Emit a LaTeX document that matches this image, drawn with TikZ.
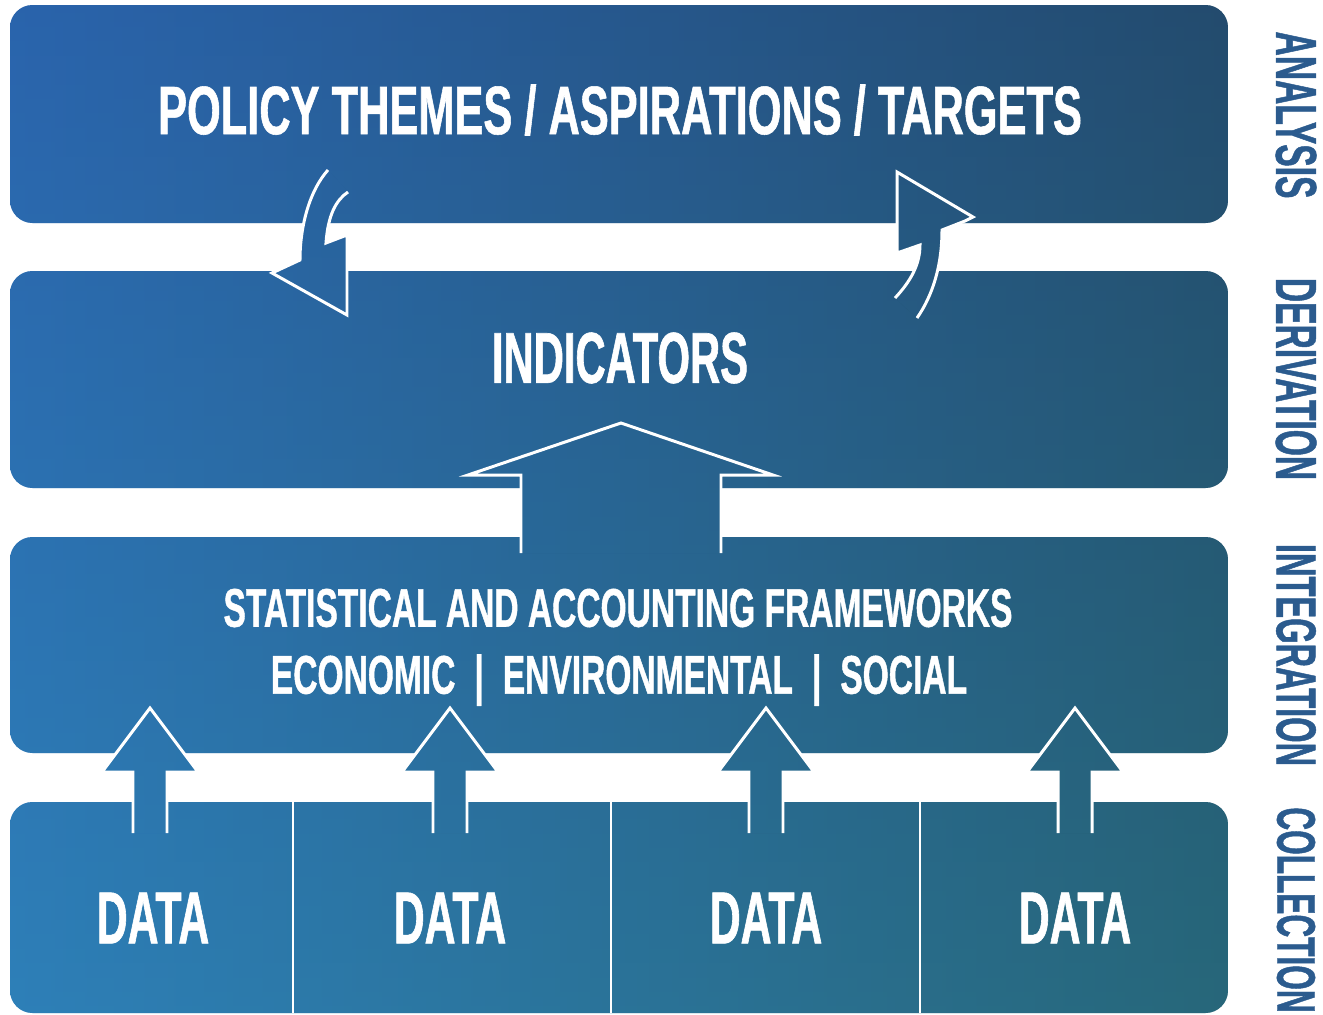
\documentclass[tikz,border=0pt]{standalone}
\usepackage{fontspec}
\newfontfamily\condfont{Liberation Sans}[FakeStretch=0.58,FakeBold=0.8]
\newfontfamily\widefont{Liberation Sans}[FakeStretch=0.616,FakeBold=0.8]
\newfontfamily\titlefont{Liberation Sans}[FakeStretch=0.633,FakeBold=0.8]

\definecolor{paneleft}{HTML}{2F71BB}
\definecolor{panemid}{HTML}{266599}
\definecolor{paneright}{HTML}{244853}
\definecolor{panetop}{HTML}{225096}
\definecolor{panebot}{HTML}{2C96B4}
\definecolor{stageblue}{HTML}{2B5B8E}

% the one gradient behind every panel and arrow
\newcommand{\paneshade}{%
  \shade[left color=paneleft, middle color=panemid, right color=paneright] (10,5) rectangle (1228,1013);
  \shade[top color=panetop, bottom color=panebot, opacity=0.4] (10,5) rectangle (1228,1013);}

\begin{document}
\begin{tikzpicture}[x=0.02cm,y=-0.02cm,
    outline/.style={draw=white, line width=1.7pt, line join=miter},
    banner/.style={text=white, font=\titlefont\bfseries\fontsize{39}{44}\selectfont},
    framework/.style={text=white, font=\widefont\bfseries\fontsize{31}{36}\selectfont},
    datalabel/.style={text=white, font=\condfont\bfseries\fontsize{42}{48}\selectfont},
    stage/.style={text=stageblue, rotate=-90, font=\condfont\bfseries\fontsize{33}{38}\selectfont}]
\useasboundingbox (0,0) rectangle (1323,1015);

% panels
\foreach \top/\bot in {5/223,271/488,537/753,802/1013}{
  \begin{scope}
    \clip[rounded corners=0.45cm] (10,\top) rectangle (1228,\bot);
    \paneshade
  \end{scope}
}
\foreach \x in {293,611,920}
  \draw[white, line width=1pt] (\x,802) -- (\x,1013);

% bent arrows between targets and indicators
\begin{scope}
  \clip (328,170) .. controls (310,190) and (300,225) .. (300,260) -- (272,273) -- (347,315)
        -- (347,235) -- (326,243) .. controls (328,215) and (336,200) .. (348,192) -- cycle;
  \paneshade
\end{scope}
\draw[outline] (328,170) .. controls (310,190) and (300,225) .. (300,260) -- (272,273) -- (347,315)
      -- (347,235) -- (326,243) .. controls (328,215) and (336,200) .. (348,192);

\begin{scope}
  \clip (895,298) .. controls (910,282) and (920,265) .. (920,245) -- (897,253) -- (897,172)
        -- (973,217) -- (965,221) -- (942,230) .. controls (942,265) and (933,295) .. (917,318) -- cycle;
  \paneshade
\end{scope}
\draw[outline] (895,298) .. controls (910,282) and (920,265) .. (920,245) -- (897,253) -- (897,172)
      -- (973,217) -- (965,221) -- (942,230) .. controls (942,265) and (933,295) .. (917,318);

% big arrow up to indicators
\begin{scope}
  \clip (521,553) -- (521,475) -- (468,475) -- (621,423) -- (773,475) -- (721,475) -- (721,553) -- cycle;
  \paneshade
\end{scope}
\draw[outline] (521,553) -- (521,475) -- (468,475) -- (621,423) -- (773,475) -- (721,475) -- (721,553);

% data arrows
\foreach \x in {150,450,766,1075}{
  \begin{scope}
    \clip ({\x-17},833) -- ({\x-17},772) -- ({\x-48},772) -- (\x,708) -- ({\x+48},772)
          -- ({\x+17},772) -- ({\x+17},833) -- cycle;
    \paneshade
  \end{scope}
  \draw[outline] ({\x-17},833) -- ({\x-17},772) -- ({\x-48},772) -- (\x,708) -- ({\x+48},772)
        -- ({\x+17},772) -- ({\x+17},833);
}

% texts
\node[banner] (policy) at (620,110) {POLICY THEMES / ASPIRATIONS / TARGETS};
\node[datalabel, font=\condfont\bfseries\fontsize{41}{47}\selectfont] (indicators) at (620,358) {INDICATORS};
\node[framework] (frameworks) at (618,608) {STATISTICAL AND ACCOUNTING FRAMEWORKS};
\node[framework] (pillars) at (619,680)
  {ECONOMIC\hspace{0.38cm}|\hspace{0.38cm}ENVIRONMENTAL\hspace{0.38cm}|\hspace{0.38cm}SOCIAL};
\foreach \x/\n in {153/1,450/2,766/3,1075/4}
  \node[datalabel] (data\n) at (\x,918) {DATA};

\node[stage] (analysis) at (1296,115) {ANALYSIS};
\node[stage] (derivation) at (1296,379) {DERIVATION};
\node[stage, font=\condfont\bfseries\fontsize{32}{37}\selectfont] (integration) at (1296,655) {INTEGRATION};
\node[stage, font=\condfont\bfseries\fontsize{31}{36}\selectfont] (collection) at (1296,910) {COLLECTION};
\end{tikzpicture}
\end{document}
